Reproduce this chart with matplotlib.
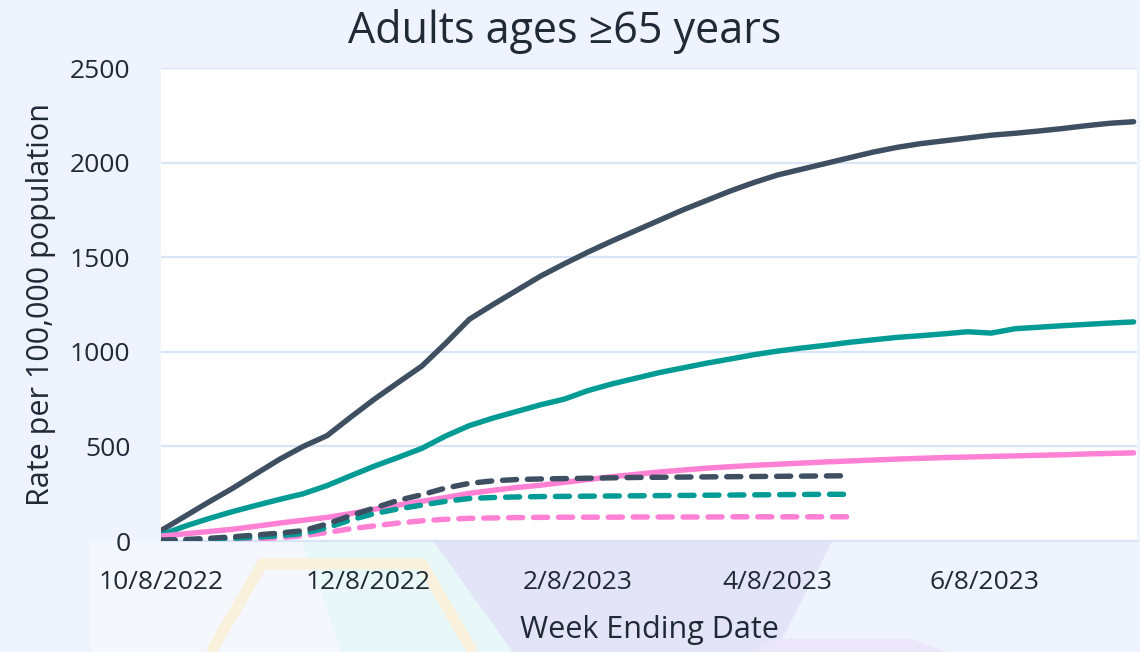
import numpy as np
import pandas as pd
import matplotlib
matplotlib.use('Agg')
import matplotlib.pyplot as plt
import matplotlib.dates as mdates
from matplotlib.patches import Polygon

# weekly data, week ending dates
weeks = pd.date_range('2022-10-08', periods=42, freq='7D')

dark_solid = [55, 130, 205, 277, 355, 432, 500, 557, 655, 750, 838, 925, 1045, 1172,
              1250, 1325, 1400, 1465, 1527, 1585, 1640, 1695, 1750, 1800, 1850, 1895,
              1935, 1965, 1995, 2025, 2055, 2080, 2100, 2115, 2130, 2145, 2155, 2167,
              2180, 2195, 2208, 2216]
teal_solid = [32, 78, 118, 155, 188, 220, 250, 293, 345, 396, 442, 490, 555, 610, 650,
              685, 720, 750, 795, 830, 860, 890, 915, 940, 962, 985, 1004, 1020, 1034,
              1050, 1063, 1076, 1085, 1095, 1106, 1099, 1122, 1130, 1138, 1145, 1152, 1158]
pink_solid = [26, 38, 50, 62, 78, 95, 110, 125, 145, 168, 190, 210, 230, 252, 268, 283,
              295, 310, 325, 340, 352, 365, 375, 385, 393, 400, 406, 412, 418, 423, 428,
              433, 437, 441, 444, 447, 450, 453, 456, 460, 463, 466]

# dashed series stop at end of April 2023
dark_dash = [5, 8, 14, 22, 32, 42, 55, 90, 135, 175, 215, 245, 280, 305, 318, 325, 328,
             330, 332, 334, 336, 337, 338, 339, 340, 341, 342, 343, 344, 345]
teal_dash = [3, 5, 9, 14, 20, 28, 40, 70, 112, 145, 170, 190, 210, 225, 230, 233, 235,
             236, 237, 238, 239, 240, 241, 242, 243, 244, 245, 246, 247, 247]
pink_dash = [2, 3, 5, 8, 12, 18, 28, 45, 65, 80, 95, 107, 115, 120, 122, 124, 125, 126,
             126, 126, 127, 127, 127, 127, 128, 128, 128, 128, 128, 128]

tick_dates = ['2022-10-08', '2022-12-08', '2023-02-08', '2023-04-08', '2023-06-08']
tick_labels = ['10/8/2022', '12/8/2022', '2/8/2023', '4/8/2023', '6/8/2023']
y_ticks = [0, 500, 1000, 1500, 2000, 2500]

DARK = '#3e4f62'
TEAL = '#009b94'
PINK = '#ff80d4'
TXT = '#1f2a36'

plt.rcParams['font.family'] = ['Open Sans', 'DejaVu Sans']

fig = plt.figure(figsize=(11.4, 6.52), dpi=100, facecolor='#eef3fe')

# faint decorative background shapes (behind everything)
bg = fig.add_axes([0, 0, 1, 1], zorder=0)
bg.set_xlim(0, 1)
bg.set_ylim(0, 1)
bg.axis('off')
bg.add_patch(Polygon([[0.08, 0.17], [0.38, 0.17], [0.38, 0.0], [0.08, 0.0]],
                     facecolor='#f4f7fe', edgecolor='none'))
bg.add_patch(Polygon([[0.265, 0.17], [0.39, 0.17], [0.45, 0.0], [0.30, 0.0]],
                     facecolor='#e8f8f8', edgecolor='none'))
bg.add_patch(Polygon([[0.38, 0.17], [0.73, 0.17], [0.68, 0.0], [0.45, 0.0]],
                     facecolor='#e3e4f8', edgecolor='none'))
bg.add_patch(Polygon([[0.68, 0.02], [0.80, 0.02], [0.83, 0.0], [0.66, 0.0]],
                     facecolor='#ece6fb', edgecolor='none'))
bg.add_patch(Polygon([[0.185, 0.0], [0.23, 0.135], [0.37, 0.135], [0.415, 0.0]],
                     closed=False, facecolor='none', edgecolor='#faf1dc', lw=8))

ax = fig.add_axes([0.1412, 0.1702, 0.8562, 0.7255], zorder=2)
ax.set_facecolor('white')

lw = 3.9
ax.plot(weeks, dark_solid, color=DARK, lw=lw, solid_capstyle='round', zorder=3)
ax.plot(weeks, teal_solid, color=TEAL, lw=lw, solid_capstyle='round', zorder=3)
ax.plot(weeks, pink_solid, color=PINK, lw=lw, solid_capstyle='round', zorder=3)

dw = weeks[:len(dark_dash)]
for vals, col in [(pink_dash, PINK), (teal_dash, TEAL), (dark_dash, DARK)]:
    ax.plot(dw, vals, color=col, lw=lw, linestyle=(0, (2.6, 2.0)),
            dash_capstyle='round', zorder=3)

ax.set_xlim(weeks[0], weeks[-1] + pd.Timedelta(days=1))
ax.set_ylim(0, 2500)
ax.set_yticks(y_ticks)
ax.set_xticks([mdates.date2num(pd.Timestamp(d)) for d in tick_dates])
ax.set_xticklabels(tick_labels)

ax.grid(axis='y', color='#d9e4f6', lw=1.6, zorder=1)
ax.set_axisbelow(True)
for s in ['top', 'left', 'right']:
    ax.spines[s].set_visible(False)
ax.spines['bottom'].set_color('#d9e4f6')
ax.spines['bottom'].set_linewidth(1.6)
ax.tick_params(axis='both', length=0, labelsize=19, colors=TXT)
ax.tick_params(axis='x', pad=21)
ax.tick_params(axis='y', pad=22)

ax.set_ylabel('Rate per 100,000 population', fontsize=22, color=TXT, labelpad=10)
ax.set_xlabel('Week Ending Date', fontsize=22, color=TXT, labelpad=14)
fig.text(0.495, 0.952, 'Adults ages ≥65 years', ha='center', va='center',
         fontsize=31, color=TXT)

fig.savefig('out.png', dpi=100, facecolor=fig.get_facecolor())
